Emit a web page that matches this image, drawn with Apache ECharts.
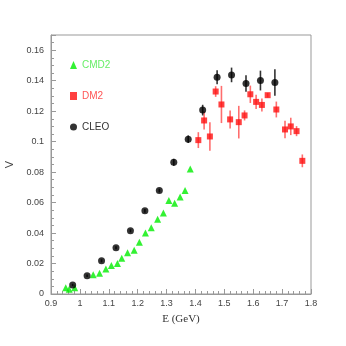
<!DOCTYPE html>
<html>
<head>
<meta charset="UTF-8" />
<title>V vs E</title>
<style>
    html, body { margin: 0; padding: 0; background: #fff; }
    #chart { width: 346px; height: 346px; }
</style>
<script src="https://cdn.jsdelivr.net/npm/echarts@6/dist/echarts.min.js"></script>
</head>
<body>
<div id="chart"></div>
<script>
    // CMD2 (green triangles)
    var cmd2E = [0.951, 0.963, 0.982, 1.046, 1.068, 1.090, 1.109, 1.130, 1.145, 1.165, 1.188,
                 1.206, 1.227, 1.247, 1.269, 1.289, 1.308, 1.328, 1.347, 1.364, 1.382];
    var cmd2V = [0.0041, 0.0031, 0.0041, 0.0126, 0.0136, 0.0164, 0.0187, 0.0200, 0.0235, 0.0270, 0.0287,
                 0.0340, 0.0400, 0.0435, 0.0490, 0.0532, 0.0613, 0.0595, 0.0637, 0.0679, 0.0821];

    // DM2 (red squares)
    var dm2E = [1.41, 1.43, 1.45, 1.47, 1.49, 1.52, 1.55, 1.57, 1.59, 1.61, 1.63, 1.65, 1.68, 1.71, 1.73, 1.75, 1.77];
    var dm2V = [0.1010, 0.1139, 0.1034, 0.1329, 0.1244, 0.1146, 0.1128, 0.1172, 0.1311, 0.1261, 0.1241,
                0.1305, 0.1211, 0.1080, 0.1100, 0.1069, 0.0874];
    var dm2Err = [0.0052, 0.0060, 0.0094, 0.0035, 0.0122, 0.0059, 0.0107, 0.0033, 0.0057, 0.0046, 0.0043,
                  0.0015, 0.0052, 0.0057, 0.0057, 0.0033, 0.0042];

    // CLEO (black circles)
    var cleoE = [0.975, 1.025, 1.075, 1.125, 1.175, 1.225, 1.275, 1.325, 1.375, 1.425, 1.475, 1.525, 1.575, 1.625, 1.675];
    var cleoV = [0.0059, 0.0120, 0.0218, 0.0304, 0.0415, 0.0546, 0.0679, 0.0864, 0.1016, 0.1207, 0.1423,
                 0.1438, 0.1382, 0.1401, 0.1388];
    var cleoErr = [0.0008, 0.0008, 0.0010, 0.0010, 0.0010, 0.0012, 0.0012, 0.0023, 0.0025, 0.0035, 0.0046,
                   0.0048, 0.0054, 0.0065, 0.0087];

    function pairs(xs, ys) {
        return xs.map(function (x, i) { return [x, ys[i]]; });
    }
    function errData(xs, ys, es) {
        return xs.map(function (x, i) { return [x, ys[i] - es[i], ys[i] + es[i]]; });
    }
    function errSeries(data, color) {
        return {
            type: 'custom',
            silent: true,
            data: data,
            encode: { x: 0, y: [1, 2] },
            renderItem: function (params, api) {
                var lo = api.coord([api.value(0), api.value(1)]);
                var hi = api.coord([api.value(0), api.value(2)]);
                return {
                    type: 'line',
                    shape: { x1: lo[0], y1: lo[1], x2: hi[0], y2: hi[1] },
                    style: { stroke: color, lineWidth: 1.6 }
                };
            },
            z: 1
        };
    }

    var chart = echarts.init(document.getElementById('chart'));
    var axisFont = { color: '#444', fontSize: 9, fontFamily: 'Liberation Sans' };

    var option = {
        animation: false,
        backgroundColor: '#fff',
        grid: {
            left: 51, right: 35, top: 35, bottom: 52,
            outerBoundsMode: 'none', containLabel: false,
            show: true, borderColor: '#999', borderWidth: 1
        },
        legend: {
            orient: 'vertical',
            left: 65, top: 55,
            itemWidth: 7, itemHeight: 8, itemGap: 21,
            textStyle: { fontSize: 10, fontFamily: 'Liberation Sans' },
            data: [
                { name: 'CMD2', icon: 'triangle', textStyle: { color: '#66ee66' } },
                { name: 'DM2', icon: 'rect', textStyle: { color: '#ff5555' } },
                { name: 'CLEO', icon: 'circle', textStyle: { color: '#333' } }
            ]
        },
        xAxis: {
            type: 'value', min: 0.9, max: 1.8, interval: 0.1,
            name: 'E (GeV)', nameLocation: 'middle', nameGap: 20,
            nameTextStyle: { fontFamily: 'Liberation Serif', fontSize: 11, color: '#333' },
            axisLine: { lineStyle: { color: '#999' } },
            axisTick: { inside: true, length: 5, lineStyle: { color: '#999' } },
            minorTick: { show: true, splitNumber: 5, length: 3, lineStyle: { color: '#999' } },
            splitLine: { show: false },
            axisLabel: Object.assign({ margin: 5, formatter: function (v) { return String(+v.toFixed(1)); } }, axisFont)
        },
        yAxis: {
            type: 'value', min: 0, max: 0.17, interval: 0.02,
            name: 'V', nameLocation: 'middle', nameGap: 25,
            nameTextStyle: { fontFamily: 'Liberation Sans', fontSize: 11, color: '#444' },
            axisLine: { lineStyle: { color: '#999' } },
            axisTick: { inside: true, length: 5, lineStyle: { color: '#999' } },
            minorTick: { show: true, splitNumber: 4, length: 3, lineStyle: { color: '#999' } },
            splitLine: { show: false },
            axisLabel: Object.assign({
                margin: 7, showMaxLabel: false,
                formatter: function (v) { return String(+v.toFixed(2)); }
            }, axisFont)
        },
        series: [
            errSeries(errData(dm2E, dm2V, dm2Err), 'rgba(255,60,60,0.75)'),
            errSeries(errData(cleoE, cleoV, cleoErr), '#333'),
            {
                name: 'CMD2', type: 'scatter', symbol: 'triangle', symbolSize: 7,
                itemStyle: { color: '#00ee00' }, data: pairs(cmd2E, cmd2V), z: 3
            },
            {
                name: 'DM2', type: 'scatter', symbol: 'rect', symbolSize: 6,
                itemStyle: { color: '#ff1010' }, data: pairs(dm2E, dm2V), z: 3
            },
            {
                name: 'CLEO', type: 'scatter', symbol: 'circle', symbolSize: 7,
                itemStyle: { color: '#000' }, data: pairs(cleoE, cleoV), z: 3
            }
        ]
    };
    chart.setOption(option);
</script>
</body>
</html>
